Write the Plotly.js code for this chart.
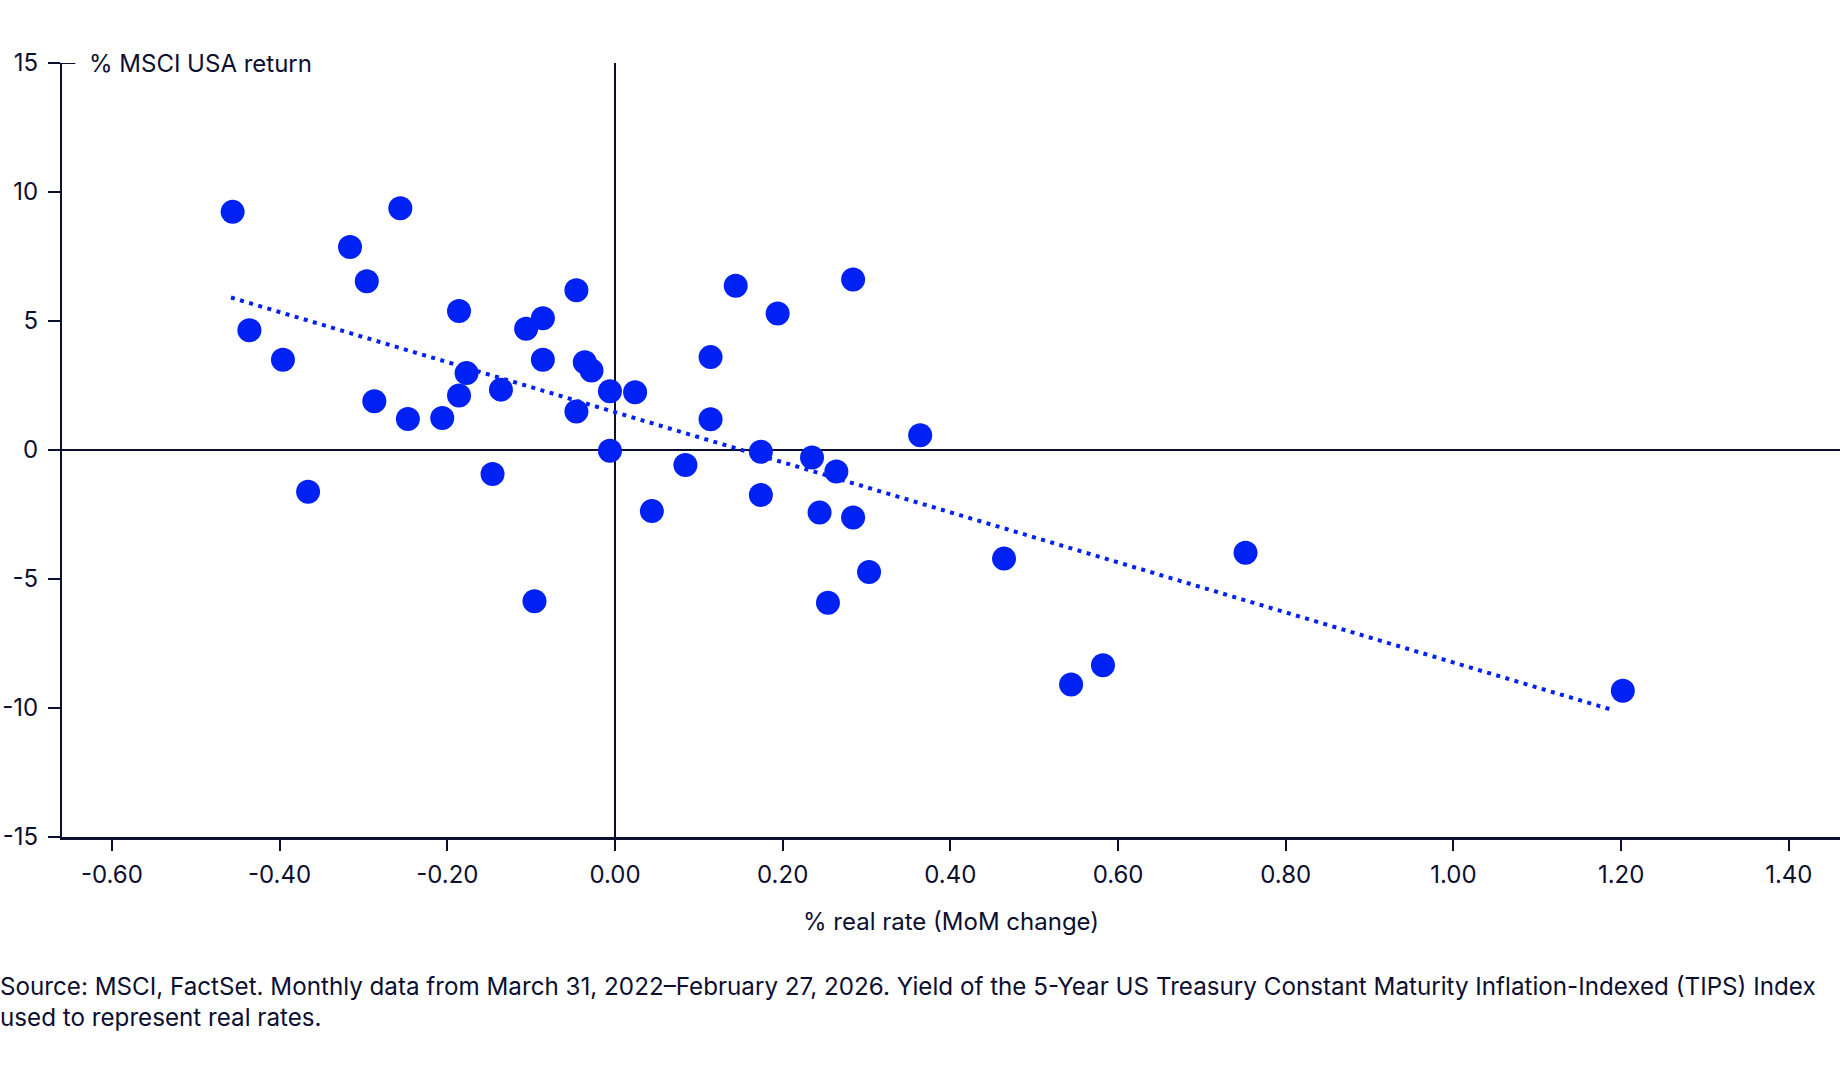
<!DOCTYPE html>
<html>
<head>
<meta charset="utf-8">
<script src="https://cdn.plot.ly/plotly-3.0.1.min.js"></script>
<style>
  html, body { margin: 0; padding: 0; background: #ffffff; }
  #chart { width: 1840px; height: 1080px; }
</style>
</head>
<body>
<div id="chart"></div>
<script>
// Monthly observations: % real rate change (MoM) vs % MSCI USA return
const realRateChange = [
  -0.456, -0.436, -0.396, -0.366, -0.316, -0.296, -0.287, -0.256, -0.247, -0.206,
  -0.186, -0.186, -0.177, -0.146, -0.136, -0.106, -0.096, -0.086, -0.086, -0.046,
  -0.046, -0.036, -0.028, -0.006, -0.006, 0.024, 0.044, 0.084, 0.114, 0.114,
  0.144, 0.174, 0.174, 0.194, 0.235, 0.244, 0.254, 0.264, 0.284, 0.284,
  0.303, 0.364, 0.464, 0.544, 0.582, 0.752, 1.202
];
const msciUsaReturn = [
  9.23, 4.64, 3.50, -1.62, 7.87, 6.54, 1.89, 9.37, 1.20, 1.24,
  5.39, 2.11, 2.98, -0.93, 2.34, 4.70, -5.86, 5.11, 3.50, 6.19,
  1.49, 3.40, 3.08, 2.28, -0.03, 2.24, -2.36, -0.58, 3.60, 1.19,
  6.37, -0.07, -1.74, 5.29, -0.29, -2.42, -5.92, -0.83, 6.61, -2.62,
  -4.73, 0.57, -4.21, -9.09, -8.34, -3.98, -9.33
];
// Trend line end points as drawn
const trendX = [-0.458, 1.189];
const trendY = [5.91, -10.07];

// Tick values and labels
const xTickVals = [-0.6, -0.4, -0.2, 0, 0.2, 0.4, 0.6, 0.8, 1.0, 1.2, 1.4];
const xTickText = ["-0.60", "-0.40", "-0.20", "0.00", "0.20", "0.40", "0.60", "0.80", "1.00", "1.20", "1.40"];
const yTickVals = [-15, -10, -5, 0, 5, 10, 15];
const yTickText = ["-15", "-10", "-5", "0", "5", "10", "15"];

const xTitle = "% real rate (MoM change)";
const yTitle = "% MSCI USA return";
const sourceText = "Source: MSCI, FactSet. Monthly data from March 31, 2022\u2013February 27, 2026. Yield of the 5-Year US Treasury Constant Maturity Inflation-Indexed (TIPS) Index<br>used to represent real rates.";

const NAVY = "#0c0f30";
const BLUE = "#0021f3";
const FONT = "Inter, 'Noto Sans', sans-serif";
const FS = 24;
const xRange = [-0.6595, 1.461];

const traces = [
  {
    type: "scatter", mode: "lines",
    x: trendX, y: trendY,
    line: { color: BLUE, width: 4, dash: "4px,5.5px" },
    hoverinfo: "skip", showlegend: false
  },
  {
    type: "scatter", mode: "markers",
    x: realRateChange, y: msciUsaReturn,
    marker: { color: BLUE, size: 24, line: { width: 0 } },
    hoverinfo: "skip", showlegend: false
  }
];

const layout = {
  width: 1840, height: 1080,
  margin: { l: 62, r: 0, t: 63, b: 243, pad: 0 },
  paper_bgcolor: "#ffffff", plot_bgcolor: "#ffffff",
  font: { family: FONT, size: FS, color: NAVY },
  showlegend: false,
  xaxis: {
    range: xRange, tickvals: xTickVals, ticktext: xTickText,
    ticks: "outside", ticklen: 11, tickwidth: 2, tickcolor: NAVY,
    showline: true, linewidth: 3, linecolor: NAVY,
    showgrid: false, zeroline: true, zerolinecolor: NAVY, zerolinewidth: 1.5,
    ticklabelstandoff: 3,
    tickfont: { family: FONT, size: FS, color: NAVY },
    fixedrange: true
  },
  yaxis: {
    range: [-15, 15], tickvals: yTickVals, ticktext: yTickText,
    ticks: "outside", ticklen: 12, tickwidth: 2, tickcolor: NAVY,
    showline: true, linewidth: 2, linecolor: NAVY,
    showgrid: false, zeroline: true, zerolinecolor: NAVY, zerolinewidth: 2,
    ticklabelstandoff: 5,
    tickfont: { family: FONT, size: FS, color: NAVY },
    fixedrange: true
  },
  shapes: [
    {
      type: "line", xref: "paper", yref: "y",
      x0: 0, x1: 0.0075, y0: 15, y1: 15,
      line: { color: NAVY, width: 2 }
    }
  ],
  annotations: [
    {
      text: yTitle, xref: "paper", yref: "y", x: 0.014, y: 15,
      xanchor: "left", yanchor: "middle", showarrow: false,
      font: { family: FONT, size: FS, color: NAVY }
    },
    {
      text: xTitle, xref: "paper", yref: "paper", x: 0.5, y: -0.109,
      xanchor: "center", yanchor: "middle", showarrow: false,
      font: { family: FONT, size: FS, color: NAVY }
    },
    {
      text: sourceText, xref: "paper", yref: "paper", x: -0.0362, y: -0.213,
      xanchor: "left", yanchor: "middle", align: "left", showarrow: false,
      font: { family: FONT, size: 24.2, color: NAVY }
    }
  ]
};

Plotly.newPlot("chart", traces, layout, { displayModeBar: false, staticPlot: true });
</script>
</body>
</html>
